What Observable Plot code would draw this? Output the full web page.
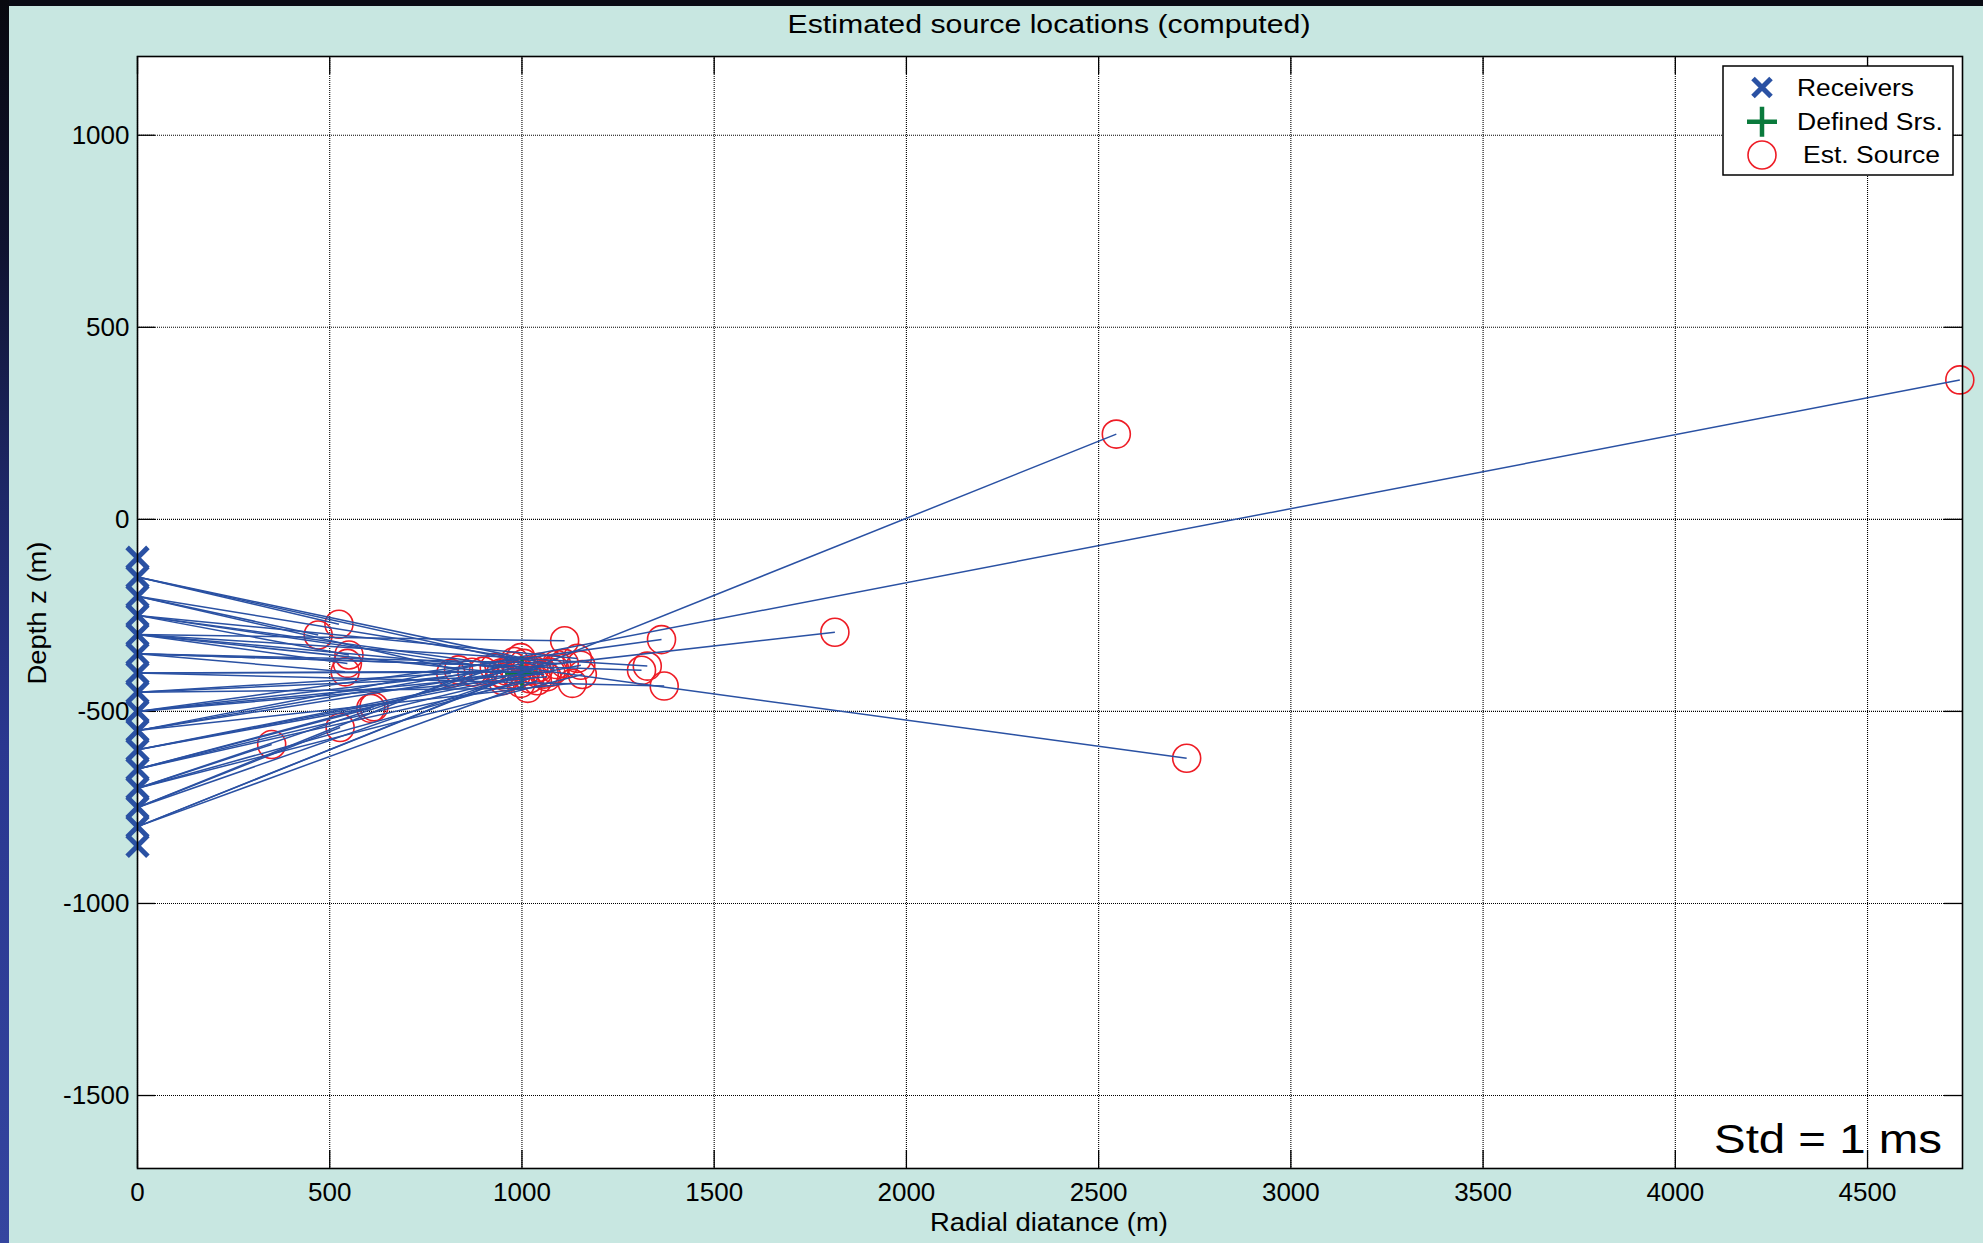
<!DOCTYPE html>
<html>
<head>
<meta charset="utf-8">
<script src="https://cdn.jsdelivr.net/npm/d3@7"></script>
<script src="https://cdn.jsdelivr.net/npm/@observablehq/plot@0.6"></script>
<style>
  html, body { margin: 0; padding: 0; }
  body { width: 1983px; height: 1243px; position: relative; overflow: hidden; background: #0a0b14; }
  #edge { position: absolute; left: 0; top: 0; width: 9px; height: 1243px;
          background: linear-gradient(to bottom, #08090f 0%, #0f1330 20%, #1e2868 40%, #2a3790 60%, #34459f 100%); }
  #panel { position: absolute; left: 9px; top: 6px; right: 0; bottom: 0; background: #c8e7e1; }
  #chart { position: absolute; left: 0; top: 0; }
  #notes { position: absolute; left: 0; top: 0; pointer-events: none; }
  svg text { font-family: "Liberation Sans", Arial, Helvetica, sans-serif; }
</style>
</head>
<body>
<div id="edge"></div>
<div id="panel"></div>
<div id="chart"></div>
<svg id="notes" width="1983" height="1243"></svg>
<script>
// Axis ticks (m)
const xTicks = [0, 500, 1000, 1500, 2000, 2500, 3000, 3500, 4000, 4500];
const yTicks = [-1500, -1000, -500, 0, 500, 1000];

// Receiver array along the borehole (radial distance 0)
const receiverX = 0;
const receiverDepth = [-100, -150, -200, -250, -300, -350, -400, -450, -500,
                       -550, -600, -650, -700, -750, -800, -850];

// Defined source position
const definedX = [1000];
const definedZ = [-400];

// Estimated source positions and the receiver depth each ray is drawn from
const estX = [524, 470, 550, 546, 540, 607, 615, 527, 349,
              815, 835, 928, 945, 958, 975, 997, 997, 1010, 1020, 1031, 1045,
              1058, 1040, 1075, 1090, 1110, 1144, 1153, 1157, 1131, 985, 960, 870,
              900, 1005, 1015, 1065, 950, 1085, 1040, 980,
              1111, 1363, 1326, 1311, 1370, 1814, 2546, 4740, 2729];
const estZ = [-273, -301, -353, -375, -397, -492, -488, -542, -586,
              -401, -392, -386, -400, -410, -382, -360, -427, -395, -415, -393, -385,
              -403, -420, -398, -378, -375, -362, -380, -404, -427, -405, -395, -398,
              -395, -375, -440, -410, -420, -390, -400, -370,
              -316, -313, -382, -393, -434, -294, 222, 363, -622];
const rayFrom = [-150, -200, -250, -300, -350, -650, -600, -750, -700,
                 -450, -200, -250, -550, -600, -350, -150, -650, -400, -700, -300, -750,
                 -450, -800, -400, -200, -350, -250, -600, -700, -550, -500, -650, -750,
                 -300, -550, -450, -500, -800, -150, -650, -700,
                 -300, -500, -300, -350, -400, -500, -800, -550, -250];

const rays = estX.map((x, i) => ({x1: receiverX, y1: rayFrom[i], x2: x, y2: estZ[i]}));
const estimates = estX.map((x, i) => ({x, z: estZ[i]}));
const receivers = receiverDepth.map(z => ({x: receiverX, z}));
const defined = definedX.map((x, i) => ({x, z: definedZ[i]}));

const xDomain = [0, 4747];
const yDomain = [-1690, 1205];
const tickLen = 47; // inward tick length in metres (≈18 px)

const blue = "#2a51a3";
const font = "'Liberation Sans', Arial, Helvetica, sans-serif";
const plain = d => String(d);

const chart = Plot.plot({
  width: 1983,
  height: 1243,
  marginLeft: 137,
  marginRight: 21,
  marginTop: 56,
  marginBottom: 75,
  style: {background: "transparent", fontFamily: font, fontSize: "26px", color: "#000"},
  x: {domain: xDomain, axis: null},
  y: {domain: yDomain, axis: null},
  marks: [
    Plot.frame({fill: "white"}),
    Plot.gridX(xTicks, {stroke: "#000", strokeOpacity: 1, strokeWidth: 1.1, strokeDasharray: "1,1"}),
    Plot.gridY(yTicks, {stroke: "#000", strokeOpacity: 1, strokeWidth: 1.1, strokeDasharray: "1,1"}),
    // inward ticks on all four sides
    Plot.ruleX(xTicks, {y1: yDomain[0], y2: yDomain[0] + tickLen, stroke: "#000", strokeWidth: 1.3}),
    Plot.ruleX(xTicks, {y1: yDomain[1] - tickLen, y2: yDomain[1], stroke: "#000", strokeWidth: 1.3}),
    Plot.ruleY(yTicks, {x1: xDomain[0], x2: xDomain[0] + tickLen, stroke: "#000", strokeWidth: 1.3}),
    Plot.ruleY(yTicks, {x1: xDomain[1] - tickLen, x2: xDomain[1], stroke: "#000", strokeWidth: 1.3}),
    Plot.axisX(xTicks, {anchor: "bottom", tickSize: 0, tickPadding: 14, label: null, fontSize: 26, tickFormat: plain}),
    Plot.axisY(yTicks, {anchor: "left", tickSize: 0, tickPadding: 8, label: null, fontSize: 26, tickFormat: plain}),
    // estimated sources
    Plot.dot(estimates, {x: "x", y: "z", r: 14, stroke: "#ee1c25", strokeWidth: 1.6, fill: "none"}),
    // defined source
    Plot.dot(defined, {x: "x", y: "z", symbol: "plus", r: 11, stroke: "#0a7a3c", strokeWidth: 3.5}),
    // rays from receivers to estimated sources
    Plot.link(rays, {x1: "x1", y1: "y1", x2: "x2", y2: "y2", stroke: blue, strokeWidth: 1.5}),
    // receivers
    Plot.dot(receivers, {x: "x", y: "z", symbol: "times", r: 9.5, stroke: blue, strokeWidth: 5}),
    Plot.frame({stroke: "#000", strokeWidth: 1.6})
  ]
});
document.getElementById("chart").appendChild(chart);

// Title, axis labels, annotation and legend
const notes = d3.select("#notes");
function label(parent, txt, x, cy, size, width, opts = {}) {
  const t = parent.append("text")
    .attr("x", x).attr("y", cy + 0.358 * size)
    .attr("font-size", size).attr("fill", "#000")
    .attr("text-anchor", opts.anchor || "middle")
    .attr("textLength", width).attr("lengthAdjust", "spacingAndGlyphs")
    .text(txt);
  if (opts.rotate) t.attr("transform", `rotate(-90, ${x}, ${cy})`);
  return t;
}
label(notes, "Estimated source locations (computed)", 1049, 24, 25, 523);
label(notes, "Radial diatance (m)", 1049, 1222, 25, 238);
label(notes, "Depth z (m)", 37, 613, 25, 143, {rotate: true});
label(notes, "Std = 1 ms", 1942, 1138.5, 40, 228, {anchor: "end"});

const lg = notes.append("g").attr("transform", "translate(1723,66)");
lg.append("rect").attr("width", 230).attr("height", 109)
  .attr("fill", "white").attr("stroke", "#000").attr("stroke-width", 1.5);
const rows = [
  {name: "Receivers", cy: 21.5, tx: 74, w: 117},
  {name: "Defined Srs.", cy: 55.7, tx: 74, w: 146},
  {name: "Est. Source", cy: 89, tx: 80, w: 137}
];
// receiver marker
lg.append("path").attr("d", "M-9,-9L9,9M-9,9L9,-9")
  .attr("transform", `translate(39,${rows[0].cy})`)
  .attr("stroke", blue).attr("stroke-width", 5).attr("fill", "none");
// defined source marker
lg.append("path").attr("d", "M-15,0L15,0M0,-15L0,15")
  .attr("transform", `translate(39,${rows[1].cy})`)
  .attr("stroke", "#0a7a3c").attr("stroke-width", 4.5).attr("fill", "none");
// estimated source marker
lg.append("circle").attr("cx", 39).attr("cy", rows[2].cy).attr("r", 14)
  .attr("stroke", "#ee1c25").attr("stroke-width", 1.6).attr("fill", "none");
rows.forEach(r => label(lg, r.name, r.tx, r.cy, 23, r.w, {anchor: "start"}));
</script>
</body>
</html>
